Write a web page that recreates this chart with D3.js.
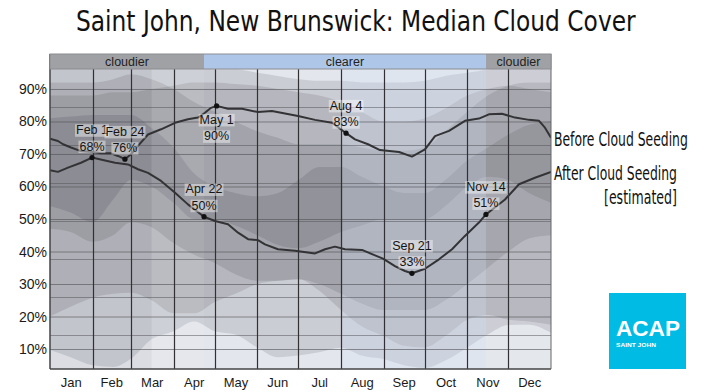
<!DOCTYPE html>
<html><head><meta charset="utf-8">
<script src="https://cdn.jsdelivr.net/npm/d3@7"></script>
<style>body{margin:0;background:#fff}svg{display:block}</style>
</head><body>
<svg id="c" width="709" height="392"></svg>
<script>
// ---------------- data ----------------
const titleText = "Saint John, New Brunswick: Median Cloud Cover";
const monthLabels = ["Jan","Feb","Mar","Apr","May","Jun","Jul","Aug","Sep","Oct","Nov","Dec"];
const monthStarts = [0,31,59,90,120,151,181,212,243,273,304,334,365];
const yTickValues = [10,20,30,40,50,60,70,80,90];
const secondaryGrid = [14.2,25.9,37.6,49.3,61.0,72.7,84.4];
const seasonDays = [0,112.2,317.6,365];
const seasonLabels = ["cloudier","clearer","cloudier"];
const stripDays = [[0,74],[74,112.2],[213,317.6],[317.6,365]];

const bandDays = [0,15,31,46,59,74,90,105,120,135,151,166,181,196,212,227,243,258,273,288,304,319,334,349,365];
const after10  = [9.7,7.5,5,4.5,7,13,15.5,18.5,15.5,14.5,10.5,7.5,8,9,10.4,8,6.9,5,4.2,6.5,10.5,14.5,17.4,17.5,15];
const after25  = [47,46,43,45,49,47.5,42.6,39,36.5,33,31,31,31.5,30,27,24,22,22,22,25,30,35,40,44,45];
const after75  = [81,81.5,82,82,82,78,72,64,60,58,57,58,62,66,66,63,60,58,58,62,68,72,76,79,80];
const after90  = [92,92,92,93,94.5,93,90,86,83,80,77,75,73,73,73,72,71,71,72,77,83,88,91,92,92];
const before10 = [20,23,25.8,27,27.3,25,21,21,24.5,27,30,31,31.5,28,22,17,14,11,10.5,14,19,20.5,19,18.5,17.5];
const before25 = [54,52,49,56,62,60,55,50,50,48,45,42,41,43,46,48,50,50,50,54,60,63,62,58,55];
const before75 = [88,88,88,89,89,90,91,92,92,91.5,91,90,89,88,86,83,80,80,81,84,88,90,91,90,89];
const before90 = [97,97,97,97,98,98,97,97,96,96,95,94,93,92.5,92.5,92,92,92,92.5,94,95,96,97,97,97];

// median lines [dayOfYear, percent]
const beforeLine = [[0,74.7],[5.8,74],[9.5,73],[15.3,72],[22.6,70.9],[30.6,70.6],[37.2,70.2],[44.4,70.2],[49.5,69.4],[54.6,68.4],[59,69.9],[64.1,72.5],[71.4,76],[80.9,77.6],[91.1,79.6],[100.5,80.7],[107.8,81.2],[112.9,82.7],[117.3,84.2],[121.4,84.8],[129.7,83.9],[139.9,83.9],[151.5,82.9],[161.7,83.2],[180.7,81.7],[193.1,80.5],[205.5,79.6],[215.7,76.4],[222.2,74.5],[231.7,73],[240.4,71.2],[254.3,70.6],[263.7,69.2],[273.2,71.4],[280.5,75.5],[290.7,77.1],[302.3,80.2],[312.5,80.9],[319.8,82.2],[329.3,82.4],[338.8,81.2],[349,80.5],[356.3,80.2],[360.6,78.1],[365,75]];
const afterLine = [[0,65],[5.8,64.5],[13.1,65.8],[22.6,67.3],[30.6,68.9],[40.1,68],[47.4,67.3],[56.8,66.8],[64.1,65.3],[71.4,64.2],[80.9,61.7],[91.1,58.1],[100.5,54.5],[112.2,50.7],[120.2,49.4],[129.7,48.4],[137,45.8],[144.3,43.8],[151.5,43.5],[156.6,42.2],[166.1,40.7],[178.5,40.2],[193.1,39.4],[200.4,40.7],[207.6,41.5],[214.9,40.7],[227.3,40.5],[236.8,38.8],[242.6,37.8],[251.3,35.5],[258.6,34],[263.7,33.3],[273.2,34.7],[283.4,37.6],[292.9,40.7],[302.3,44.8],[312.5,48.9],[317.6,51.4],[331.5,56],[341.7,60.7],[353.3,62.7],[365,64.5]];

// annotations: [day, percent on line, date text, value text]
const annotations = [
  [30.6,68.9,"Feb 1","68%"],
  [54.6,68.4,"Feb 24","76%"],
  [121.4,84.8,"May 1","90%"],
  [112.2,50.7,"Apr 22","50%"],
  [215.7,76.4,"Aug 4","83%"],
  [263.7,33.3,"Sep 21","33%"],
  [317.6,51.4,"Nov 14","51%"]
];
const annotationBelow = ["May 1"];
const seriesNames = ["Before Cloud Seeding","After Cloud Seeding","[estimated]"];

// ---------------- chart ----------------
const svg = d3.select("#c");
const m = {left:50, right:551, top:69, bottom:369};
const x = d3.scaleLinear().domain([0,365]).range([m.left, m.right]);
const y = d3.scaleLinear().domain([3.85,96.15]).range([m.bottom, m.top]);
const FONT = "'Liberation Sans', Arial, Helvetica, sans-serif";
const NARROW = "'DejaVu Sans Condensed','DejaVu Sans',sans-serif";

svg.append("defs").append("clipPath").attr("id","plot")
  .append("rect").attr("x",m.left).attr("y",m.top).attr("width",m.right-m.left).attr("height",m.bottom-m.top);

const plot = svg.append("g").attr("clip-path","url(#plot)");
plot.append("rect").attr("x",m.left).attr("y",m.top).attr("width",m.right-m.left).attr("height",m.bottom-m.top).attr("fill","#e3e6ec");

// percentile bands
const bands = [[after10,after90],[after25,after75],[before10,before90],[before25,before75]];
bands.forEach(([lo,hi])=>{
  const area = d3.area()
    .x((d,i)=>x(bandDays[i]))
    .y0((d,i)=>y(lo[i]))
    .y1((d,i)=>y(hi[i]))
    .curve(d3.curveMonotoneX);
  plot.append("path").datum(bandDays).attr("d",area).attr("fill","#14141c").attr("fill-opacity",0.115);
});

// seasonal strips
const stripStyle = [["#000000",0.035],["#ffffff",0.07],["#d5e2f8",0.28],["#ffffff",0.04]];
stripDays.forEach((s,i)=>{
  plot.append("rect").attr("x",x(s[0])).attr("y",m.top).attr("width",x(s[1])-x(s[0])).attr("height",m.bottom-m.top)
    .attr("fill",stripStyle[i][0]).attr("fill-opacity",stripStyle[i][1]);
});

// gridlines
plot.selectAll(".g1").data(yTickValues).join("line")
  .attr("x1",m.left).attr("x2",m.right).attr("y1",d=>y(d)+0.5).attr("y2",d=>y(d)+0.5)
  .attr("stroke","#505055").attr("stroke-opacity",0.6).attr("stroke-width",1);
plot.selectAll(".g2").data(secondaryGrid).join("line")
  .attr("x1",m.left).attr("x2",m.right).attr("y1",d=>Math.round(y(d))+0.5).attr("y2",d=>Math.round(y(d))+0.5)
  .attr("stroke","#505055").attr("stroke-opacity",0.5).attr("stroke-width",1);
plot.selectAll(".mv").data(monthStarts.slice(1,12)).join("line")
  .attr("x1",d=>Math.round(x(d))+0.5).attr("x2",d=>Math.round(x(d))+0.5).attr("y1",m.top).attr("y2",m.bottom)
  .attr("stroke","#303035").attr("stroke-width",1.2);

// lines
const line = d3.line().x(d=>x(d[0])).y(d=>y(d[1]));
[beforeLine, afterLine].forEach(s=>{
  plot.append("path").datum(s).attr("d",line).attr("fill","none")
    .attr("stroke","#333336").attr("stroke-width",2).attr("stroke-linejoin","round");
});

// points
plot.selectAll(".pt").data(annotations).join("circle")
  .attr("cx",d=>x(d[0])).attr("cy",d=>y(d[1])).attr("r",2.6).attr("fill","#111");

// labels with light boxes
const lab = svg.append("g");
function boxed(g, tx, ty, txt){
  const t = g.append("text").attr("x",tx).attr("y",ty).attr("text-anchor","middle")
    .attr("dominant-baseline","central")
    .style("font-family",FONT).style("font-size","12.5px").attr("fill","#151515").text(txt);
  const bb = t.node().getBBox();
  g.insert("rect",()=>t.node()).attr("x",bb.x-1).attr("y",bb.y+1).attr("width",bb.width+2).attr("height",bb.height-1.5)
    .attr("fill","#ffffff").attr("fill-opacity",0.42);
}
annotations.forEach(a=>{
  const px = x(a[0]), py = y(a[1]);
  const below = annotationBelow.includes(a[2]);
  const g = lab.append("g");
  if (below){ boxed(g,px,py+14,a[2]); boxed(g,px,py+30.5,a[3]); }
  else { boxed(g,px,py-27.3,a[2]); boxed(g,px,py-11,a[3]); }
});

// frame
svg.append("line").attr("x1",m.left).attr("x2",m.left).attr("y1",m.top-15).attr("y2",m.bottom).attr("stroke","#444").attr("stroke-width",1.5);
svg.append("line").attr("x1",m.left).attr("x2",m.right).attr("y1",m.bottom).attr("y2",m.bottom).attr("stroke","#444").attr("stroke-width",1.5);
svg.append("line").attr("x1",m.right).attr("x2",m.right).attr("y1",m.top-15).attr("y2",m.bottom).attr("stroke","#666").attr("stroke-width",1);

// season band
const seasonColors = {"cloudier":"#a0a1a5","clearer":"#aec7e9"};
seasonLabels.forEach((s,i)=>{
  const x0 = x(seasonDays[i]), x1 = x(seasonDays[i+1]);
  svg.append("rect").attr("x",x0).attr("y",54).attr("width",x1-x0).attr("height",15).attr("fill",seasonColors[s]);
  svg.append("text").attr("x",(x0+x1)/2).attr("y",61.5).attr("text-anchor","middle").attr("dominant-baseline","central")
    .style("font-family",FONT).style("font-size","12.5px").attr("fill","#222").text(s);
});
svg.append("rect").attr("x",m.left).attr("y",54).attr("width",m.right-m.left).attr("height",15)
  .attr("fill","none").attr("stroke","#8c8d91").attr("stroke-width",1);

// axes text
svg.selectAll(".yt").data(yTickValues).join("text")
  .attr("x",47).attr("y",d=>y(d)).attr("text-anchor","end").attr("dominant-baseline","central")
  .style("font-family",FONT).style("font-size","14px").attr("fill","#1a1a1a").text(d=>d+"%");
svg.selectAll(".mt").data(monthLabels).join("text")
  .attr("x",(d,i)=>x((monthStarts[i]+monthStarts[i+1])/2)).attr("y",382).attr("text-anchor","middle").attr("dominant-baseline","central")
  .style("font-family",FONT).style("font-size","13px").attr("fill","#1a1a1a").text(d=>d);

// horizontally compressed text (narrow display font look)
function narrowText(x0, y0, width, size, txt, opts){
  opts = opts || {};
  const g = svg.append("g");
  const t = g.append("text").attr("x",0).attr("y",0)
    .style("font-family",opts.family || NARROW).style("font-size",size+"px")
    .style("font-weight",opts.weight || "normal")
    .attr("fill",opts.fill || "#111").text(txt);
  const w = t.node().getComputedTextLength();
  g.attr("transform",`translate(${x0},${y0}) scale(${width/w},1)`);
  return g;
}

// title
narrowText(76, 31, 560, 28, titleText);

// series labels
const lastB = beforeLine[beforeLine.length-1], lastA = afterLine[afterLine.length-1];
narrowText(554, y(lastB[1])+8.5, 134, 19, seriesNames[0]);
narrowText(554, y(lastA[1])+8, 123, 19, seriesNames[1]);
narrowText(604, y(lastA[1])+32, 73, 19, seriesNames[2]);

// logo
svg.append("rect").attr("x",609).attr("y",293).attr("width",77).attr("height",76).attr("fill","#00bce4");
narrowText(616, 336, 64, 22, "ACAP", {family:FONT, weight:"bold", fill:"#fff"});
narrowText(616, 347, 40, 6, "SAINT JOHN", {family:FONT, weight:"bold", fill:"#fff"});
</script>
</body></html>
